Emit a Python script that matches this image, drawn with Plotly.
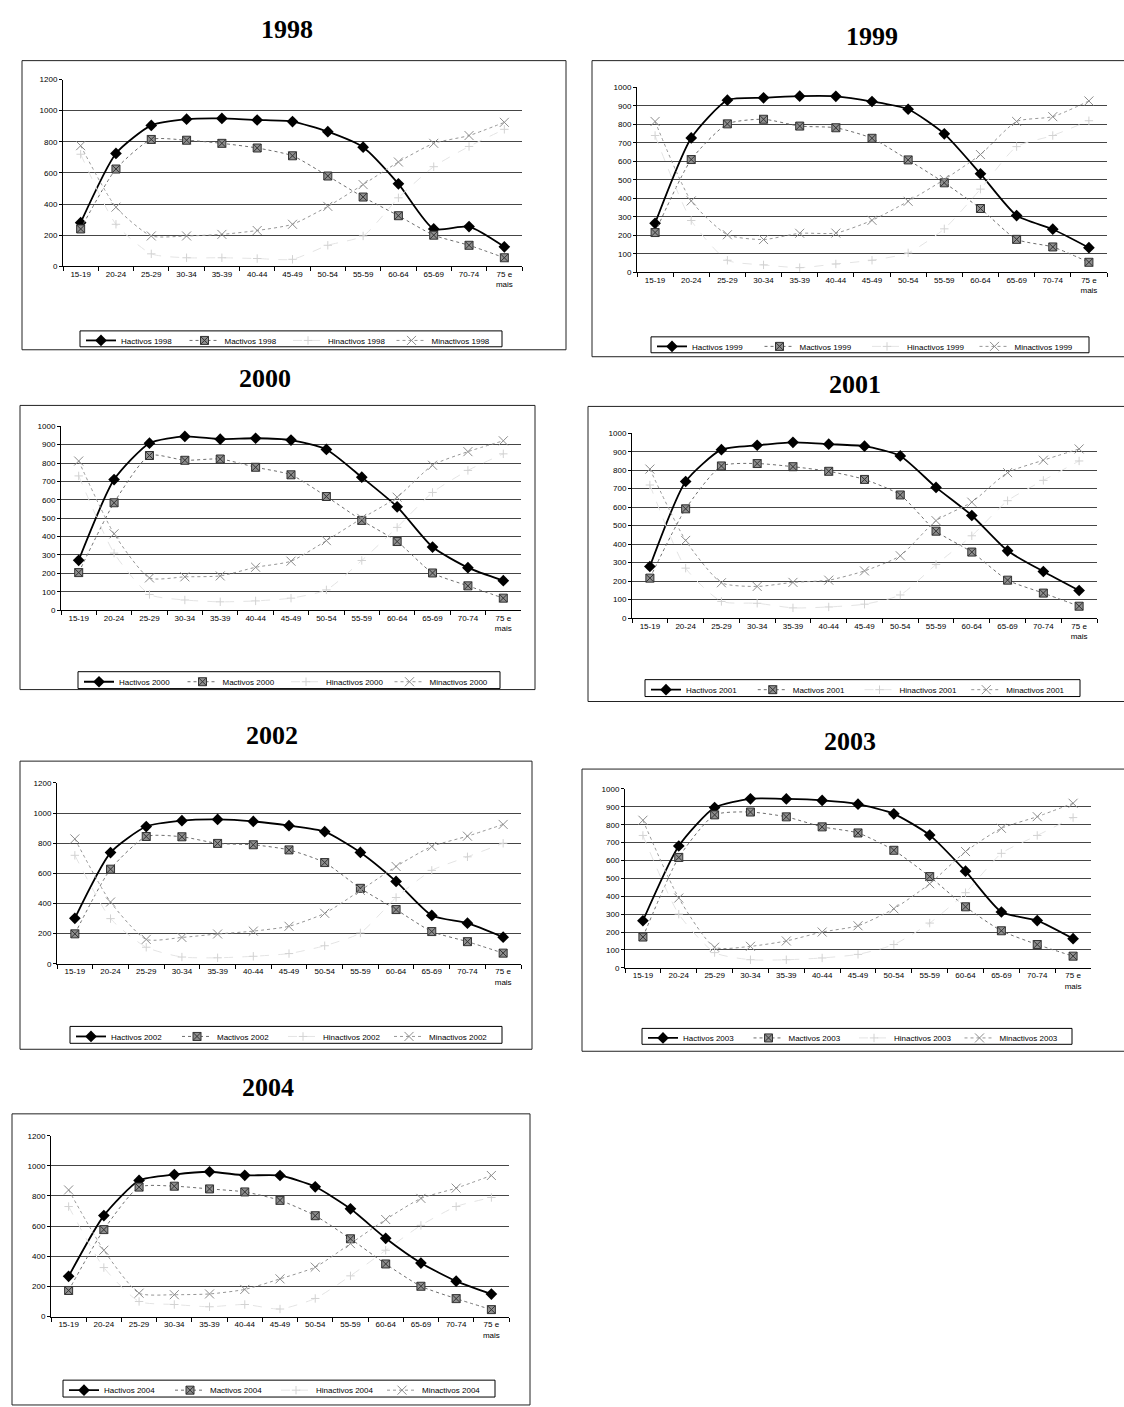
import plotly.graph_objects as go

W, H = 1124, 1407

AGE_GROUPS = ["15-19", "20-24", "25-29", "30-34", "35-39", "40-44", "45-49",
              "50-54", "55-59", "60-64", "65-69", "70-74", "75 e<br>mais"]

# Taxas por 1000 habitantes, por sexo e condição perante o trabalho
h_activos_1998 = [280, 725, 905, 945, 950, 940, 930, 865, 765, 530, 240, 255, 125]
m_activos_1998 = [240, 625, 815, 810, 790, 760, 710, 580, 445, 325, 200, 135, 55]
h_inactivos_1998 = [720, 270, 80, 55, 55, 50, 45, 135, 195, 440, 640, 770, 880]
m_inactivos_1998 = [775, 380, 195, 195, 205, 230, 270, 385, 525, 670, 790, 840, 925]

h_activos_1999 = [265, 727, 931, 944, 953, 952, 924, 882, 749, 533, 307, 233, 133]
m_activos_1999 = [215, 610, 803, 828, 791, 782, 725, 608, 484, 345, 178, 137, 54]
h_inactivos_1999 = [740, 280, 65, 40, 25, 45, 65, 105, 235, 450, 680, 740, 820]
m_inactivos_1999 = [816, 386, 203, 177, 211, 212, 281, 384, 502, 637, 816, 842, 927]

h_activos_2000 = [271, 710, 908, 945, 930, 935, 925, 874, 723, 562, 343, 231, 160]
m_activos_2000 = [204, 584, 841, 815, 822, 777, 736, 618, 488, 373, 202, 132, 65]
h_inactivos_2000 = [730, 310, 85, 55, 45, 50, 65, 110, 270, 450, 640, 760, 850]
m_inactivos_2000 = [811, 415, 175, 181, 186, 233, 266, 378, 499, 614, 788, 862, 921]

h_activos_2001 = [279, 739, 911, 935, 951, 941, 930, 877, 707, 555, 364, 252, 149]
m_activos_2001 = [216, 591, 823, 836, 819, 794, 750, 666, 470, 357, 205, 135, 64]
h_inactivos_2001 = [720, 270, 90, 80, 55, 60, 75, 125, 290, 445, 635, 745, 850]
m_inactivos_2001 = [806, 420, 191, 171, 193, 205, 255, 337, 527, 627, 787, 854, 915]

h_activos_2002 = [302, 738, 911, 950, 958, 945, 917, 877, 739, 547, 321, 270, 177]
m_activos_2002 = [199, 628, 845, 843, 799, 790, 756, 672, 501, 360, 214, 147, 71]
h_inactivos_2002 = [720, 300, 110, 45, 40, 50, 68, 120, 205, 440, 620, 710, 800]
m_inactivos_2002 = [829, 410, 162, 175, 198, 217, 249, 335, 487, 646, 779, 847, 925]

h_activos_2003 = [263, 681, 896, 945, 944, 936, 915, 861, 742, 540, 312, 264, 163]
m_activos_2003 = [172, 617, 855, 871, 844, 788, 754, 657, 510, 341, 207, 130, 65]
h_inactivos_2003 = [740, 300, 85, 45, 45, 55, 75, 130, 250, 420, 640, 740, 840]
m_inactivos_2003 = [825, 390, 115, 120, 150, 200, 235, 330, 470, 650, 780, 845, 920]

h_activos_2004 = [267, 670, 903, 942, 961, 937, 936, 861, 715, 519, 355, 235, 149]
m_activos_2004 = [173, 577, 859, 865, 847, 827, 771, 669, 516, 349, 201, 119, 46]
h_inactivos_2004 = [730, 325, 100, 80, 65, 80, 50, 120, 270, 440, 605, 730, 790]
m_inactivos_2004 = [840, 440, 155, 145, 150, 180, 250, 328, 484, 644, 784, 852, 936]

SERIES = {
    "1998": (h_activos_1998, m_activos_1998, h_inactivos_1998, m_inactivos_1998),
    "1999": (h_activos_1999, m_activos_1999, h_inactivos_1999, m_inactivos_1999),
    "2000": (h_activos_2000, m_activos_2000, h_inactivos_2000, m_inactivos_2000),
    "2001": (h_activos_2001, m_activos_2001, h_inactivos_2001, m_inactivos_2001),
    "2002": (h_activos_2002, m_activos_2002, h_inactivos_2002, m_inactivos_2002),
    "2003": (h_activos_2003, m_activos_2003, h_inactivos_2003, m_inactivos_2003),
    "2004": (h_activos_2004, m_activos_2004, h_inactivos_2004, m_inactivos_2004),
}

# Page geometry in pixels:
# year, title centre, frame (x0, y0, x1, y1), plot area (x0, x1, ytop, ybottom),
# y max, y step, legend box (x0, y0, x1, y1)
PANELS = [
    ("1998", (287, 26), (22, 57, 566, 348), (63, 522, 76, 264), 1200, 200, (80, 329, 502, 345)),
    ("1999", (872, 33), (592, 57, 1130, 355), (637, 1107, 84, 270), 1000, 100, (651, 335, 1089, 351)),
    ("2000", (265, 377), (20, 404, 535, 690), (61, 521, 425, 610), 1000, 100, (78, 672, 500, 689)),
    ("2001", (855, 383), (588, 405, 1130, 702), (632, 1097, 432, 618), 1000, 100, (645, 680, 1080, 697)),
    ("2002", (272, 736), (20, 762, 532, 1052), (57, 521, 784, 966), 1200, 200, (70, 1029, 502, 1046)),
    ("2003", (850, 742), (582, 770, 1130, 1054), (625, 1091, 790, 970), 1000, 100, (642, 1031, 1072, 1047)),
    ("2004", (268, 1090), (12, 1117, 530, 1410), (51, 509, 1139, 1321), 1200, 200, (63, 1385, 495, 1402)),
]

SANS = "Liberation Sans, Arial, sans-serif"
SERIF = "Liberation Serif, Times New Roman, serif"


def px_x(v):
    return v / W


def px_y(v):
    return 1 - v / H


fig = go.Figure()
layout = dict(
    width=W, height=H, autosize=False,
    margin=dict(l=0, r=0, t=0, b=0),
    paper_bgcolor="white", plot_bgcolor="white",
    font=dict(family=SANS, size=8, color="black"),
    shapes=[], annotations=[],
)

for i, (year, title_pos, frame, area, ymax, ystep, leg_box) in enumerate(PANELS, start=1):
    suffix = "" if i == 1 else str(i)
    xa, ya, lg = "x" + suffix, "y" + suffix, "legend" + suffix
    h_act, m_act, h_ina, m_ina = SERIES[year]

    common = dict(x=AGE_GROUPS, xaxis=xa, yaxis=ya, legend=lg, mode="lines+markers",
                  hoverinfo="x+y+name")
    fig.add_trace(go.Scatter(
        y=h_act, name=f"Hactivos {year}",
        line=dict(color="black", width=1.8, shape="spline", smoothing=0.6),
        marker=dict(symbol="diamond", size=9, color="black"), **common))
    fig.add_trace(go.Scatter(
        y=m_act, name=f"Mactivos {year}",
        line=dict(color="#6e6e6e", width=1, dash="dot", shape="spline", smoothing=0.6),
        marker=dict(symbol="square-x", size=8, color="#8e8e8e",
                    line=dict(color="#333333", width=1)), **common))
    fig.add_trace(go.Scatter(
        y=h_ina, name=f"Hinactivos {year}",
        line=dict(color="#e4e4e4", width=1, dash="dash", shape="spline", smoothing=0.6),
        marker=dict(symbol="cross-thin-open", size=6, color="#d2d2d2",
                    line=dict(color="#d2d2d2", width=1)), **common))
    fig.add_trace(go.Scatter(
        y=m_ina, name=f"Minactivos {year}",
        line=dict(color="#969696", width=1, dash="dot", shape="spline", smoothing=0.6),
        marker=dict(symbol="x-thin-open", size=9, color="#8c8c8c",
                    line=dict(color="#8c8c8c", width=1)), **common))

    x0, x1, ytop, ybot = area
    layout["xaxis" + suffix] = dict(
        domain=[px_x(x0), px_x(x1)], anchor=ya, type="category",
        range=[-0.5, len(AGE_GROUPS) - 0.5], tickson="boundaries",
        ticks="outside", ticklen=4, tickcolor="black", showline=True,
        linecolor="black", linewidth=1, showgrid=False, zeroline=False,
        tickfont=dict(size=8, family=SANS, color="black"), fixedrange=True,
    )
    layout["yaxis" + suffix] = dict(
        domain=[px_y(ybot), px_y(ytop)], anchor=xa, range=[0, ymax], dtick=ystep,
        tick0=0, ticks="outside", ticklen=3, tickcolor="black", showline=True,
        linecolor="black", linewidth=1, showgrid=True, gridcolor="#454545",
        gridwidth=1, zeroline=False,
        tickfont=dict(size=8, family=SANS, color="black"), fixedrange=True,
    )

    # legend row sits inside a thin framed box
    lx0, ly0, lx1, ly1 = leg_box
    step = (lx1 - lx0 - 8) / 4
    layout[lg] = dict(
        x=px_x(lx0 + 1), y=px_y((ly0 + ly1) / 2 - 13), xanchor="left", yanchor="top",
        orientation="h", borderwidth=0, bgcolor="rgba(0,0,0,0)",
        font=dict(size=8, family=SANS, color="black"),
        entrywidth=step - 45, entrywidthmode="pixels", itemwidth=30,
    )
    layout["shapes"].append(dict(
        type="rect", xref="paper", yref="paper",
        x0=px_x(lx0), x1=px_x(lx1), y0=px_y(ly1), y1=px_y(ly0),
        line=dict(color="black", width=1), fillcolor="white", layer="below",
    ))

    fx0, fy0, fx1, fy1 = frame
    layout["shapes"].append(dict(
        type="rect", xref="paper", yref="paper",
        x0=px_x(fx0), x1=px_x(fx1), y0=px_y(fy1), y1=px_y(fy0),
        line=dict(color="#222222", width=1), fillcolor="rgba(0,0,0,0)", layer="below",
    ))
    layout["annotations"].append(dict(
        text=f"<b>{year}</b>", xref="paper", yref="paper",
        x=px_x(title_pos[0]), y=px_y(title_pos[1]), xanchor="center", yanchor="middle",
        showarrow=False, font=dict(family=SERIF, size=26, color="black"),
    ))

fig.update_layout(**layout)
fig.write_html("out.html")
